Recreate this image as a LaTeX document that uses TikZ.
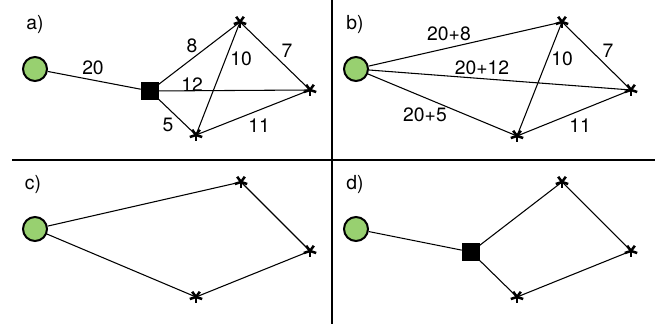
\documentclass[tikz,border=0pt]{standalone}
\usepackage{fontspec}
\setmainfont{TeX Gyre Heros}
\definecolor{srcgreen}{RGB}{152,208,112}
\tikzset{
  edge/.style={line width=0.8pt},
  divider/.style={line width=1.1pt},
  src/.style={circle, draw, line width=1.5pt, fill=srcgreen, minimum size=18pt, inner sep=0pt},
  hub/.style={rectangle, fill=black, minimum size=13.5pt, inner sep=0pt},
  term/.style={inner sep=0pt, minimum size=0pt},
  lbl/.style={font=\fontsize{14.5}{16}\selectfont, inner sep=0pt},
  asterisk/.pic={\foreach \a in {90,18,162,234,306} \draw[line width=1.9pt] (0,0) -- ++(\a:6.5);}
}
\begin{document}
\begin{tikzpicture}[x=0.75pt,y=-0.75pt]
\useasboundingbox (0,0) rectangle (665,324);
% dividers
\coordinate (hl) at (12,160); \coordinate (hr) at (655,160);
\coordinate (vt) at (332,0); \coordinate (vb) at (332,324);
\draw[divider] (hl) -- (hr);
\draw[divider] (vt) -- (vb);

% ---- panel a ----
\node[lbl] (la) at (35,25) {a)};
\node[term] (aT) at (240,22) {};
\node[term] (aR) at (310,90) {};
\node[term] (aB) at (196,135) {};
\node[hub] (aH) at (150,91) {};
\node[src] (aS) at (35,69) {};
\draw[edge] (aS) -- (aH);
\draw[edge] (aH.center) -- (aT) (aH.center) -- (aR) (aH.center) -- (aB);
\draw[edge] (aT) -- (aR) (aT) -- (aB) (aB) -- (aR);
\node[hub] at (aH) {};
\foreach \n in {aT,aR,aB} \pic at (\n) {asterisk};
\node[lbl] (a20) at (93,68) {20};
\node[lbl] (a8) at (192,46) {8};
\node[lbl] (a10) at (241,59) {10};
\node[lbl] (a7) at (287,51) {7};
\node[lbl] (a12) at (192,85) {12};
\node[lbl] (a5) at (168,125) {5};
\node[lbl] (a11) at (259,126) {11};

% ---- panel b ----
\node[lbl] (lb) at (355,25) {b)};
\node[term] (bT) at (562,22) {};
\node[term] (bR) at (631,90) {};
\node[term] (bB) at (517,136) {};
\node[src] (bS) at (356,69) {};
\draw[edge] (bS) -- (bT) (bS) -- (bR) (bS) -- (bB);
\draw[edge] (bT) -- (bR) (bT) -- (bB) (bB) -- (bR);
\foreach \n in {bT,bR,bB} \pic at (\n) {asterisk};
\node[lbl] (b28) at (449,34) {20+8};
\node[lbl] (b212) at (482,68) {20+12};
\node[lbl] (b10) at (562,59) {10};
\node[lbl] (b7) at (608,51) {7};
\node[lbl] (b25) at (425,115) {20+5};
\node[lbl] (b11) at (580,126) {11};

% ---- panel c ----
\node[lbl] (lc) at (33,185) {c)};
\node[term] (cT) at (241,182) {};
\node[term] (cR) at (310,251) {};
\node[term] (cB) at (196,297) {};
\node[src] (cS) at (35,229) {};
\draw[edge] (cS) -- (cT) (cT) -- (cR) (cR) -- (cB) (cB) -- (cS);
\foreach \n in {cT,cR,cB} \pic at (\n) {asterisk};

% ---- panel d ----
\node[lbl] (ld) at (355,185) {d)};
\node[term] (dT) at (562,182) {};
\node[term] (dR) at (631,251) {};
\node[term] (dB) at (517,297) {};
\node[hub] (dH) at (471,252) {};
\node[src] (dS) at (356,229) {};
\draw[edge] (dS) -- (dH) (dH.center) -- (dT) (dT) -- (dR) (dR) -- (dB) (dB) -- (dH.center);
\node[hub] at (dH) {};
\foreach \n in {dT,dR,dB} \pic at (\n) {asterisk};
\end{tikzpicture}
\end{document}
